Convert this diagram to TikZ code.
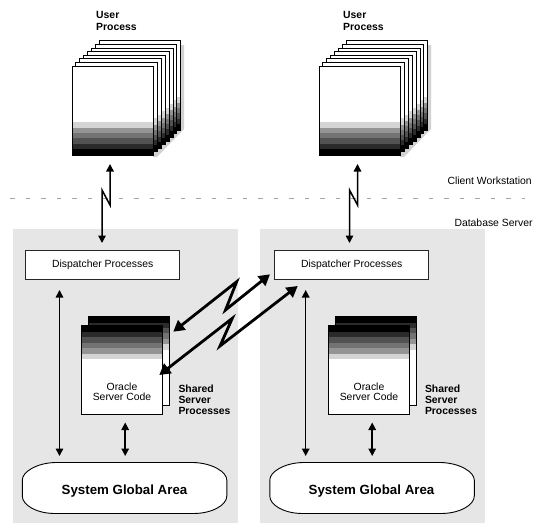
\documentclass[tikz,border=0pt]{standalone}
\usepackage{fontspec}
\setmainfont{Liberation Sans}
\usetikzlibrary{arrows.meta}
\definecolor{panelgray}{gray}{0.902}
\definecolor{shadowgray}{gray}{0.82}
\newcommand{\normaltxt}{\fontsize{10.4}{10.5}\selectfont}
\newcommand{\boldtxt}{\fontsize{10.4}{11}\selectfont\bfseries}
% page with bands at the bottom
\newcommand{\userpage}[2]{%
  \fill[white] (#1,#2) rectangle ++(81.5,89.5);
  \fill[black!17] (#1,#2+56) rectangle (#1+81.5,#2+62.3);
  \fill[black!42] (#1,#2+62.3) rectangle (#1+81.5,#2+67.3);
  \fill[black!55] (#1,#2+67.3) rectangle (#1+81.5,#2+72.3);
  \fill[black!68] (#1,#2+72.3) rectangle (#1+81.5,#2+77.7);
  \fill[black!83] (#1,#2+77.7) rectangle (#1+81.5,#2+83);
  \fill[black] (#1,#2+83) rectangle (#1+81.5,#2+89.5);
  \draw[pageline] (#1,#2) rectangle ++(81.5,89.5);}
% page with bands at the top
\newcommand{\serverpage}[2]{%
  \fill[white] (#1,#2) rectangle ++(81.5,89.5);
  \fill[black] (#1,#2) rectangle (#1+81.5,#2+6.7);
  \fill[black!83] (#1,#2+6.7) rectangle (#1+81.5,#2+12);
  \fill[black!68] (#1,#2+12) rectangle (#1+81.5,#2+17.4);
  \fill[black!55] (#1,#2+17.4) rectangle (#1+81.5,#2+23);
  \fill[black!42] (#1,#2+23) rectangle (#1+81.5,#2+28.4);
  \fill[black!17] (#1,#2+28.4) rectangle (#1+81.5,#2+33.7);
  \draw[pageline] (#1,#2) rectangle ++(81.5,89.5);}
\newcommand{\userstack}[1]{%
  \fill[shadowgray] (#1+109,45) -- (#1+112,45) -- (#1+112,129) -- (#1+85,157) -- (#1+81,157) -- cycle;
  \foreach \i in {7,6,...,0}{\userpage{#1+3.9*\i}{66-3.6*\i}}}
\newcommand{\serverstack}[1]{%
  \serverpage{#1+6.7}{316}
  \serverpage{#1}{325.3}}
\newcommand{\sgashape}[1]{%
  \path[sga] (#1+33,462.5) -- (#1+171,462.5)
    .. controls (#1+190,463) and (#1+204.5,472) .. (#1+204.5,480) -- (#1+204.5,496)
    .. controls (#1+204.5,505) and (#1+190,513.5) .. (#1+171,513.5) -- (#1+33,513.5)
    .. controls (#1+14,513.5) and (#1,505) .. (#1,496) -- (#1,480)
    .. controls (#1,472) and (#1+14,463) .. (#1+33,462.5) -- cycle;}
\tikzset{
  pageline/.style={draw=black,line width=0.9pt},
  sga/.style={draw=black,fill=white,line width=0.9pt},
  dispbox/.style={draw=black!85,fill=white,line width=1pt,minimum width=154.5pt,minimum height=29.3pt,inner sep=0pt,font=\normaltxt},
  plainlabel/.style={inner sep=0pt,anchor=base west,font=\normaltxt},
  boldlabel/.style={inner sep=0pt,anchor=base west,font=\boldtxt,align=left},
  centerlabel/.style={inner sep=0pt,anchor=base,font=\normaltxt,align=center},
  sgalabel/.style={inner sep=0pt,anchor=base,font=\fontsize{13.3}{14}\selectfont\bfseries},
  thinarrow/.style={line width=1.5pt,{Triangle[length=7.5pt,width=7.5pt]}-{Triangle[length=7.5pt,width=7.5pt]},line join=miter,miter limit=20},
  thickarrow/.style={line width=2.8pt,{Triangle[length=11pt,width=12pt]}-{Triangle[length=11pt,width=12pt]},line join=miter,miter limit=20},
}
\begin{document}
\begin{tikzpicture}[x=1pt,y=-1pt]
\useasboundingbox (0,0) rectangle (533,523);
% panels
\fill[panelgray] (12.7,229) rectangle (238,523);
\fill[panelgray] (260,229) rectangle (485,523);
% tier line
\coordinate (tierL) at (10,198.5);
\coordinate (tierR) at (525,198.5);
\draw[black!35,line width=0.8pt,dash pattern=on 4.5pt off 11pt] (tierL) -- (tierR);
% user processes
\userstack{72}
\userstack{319}
\node[boldlabel] (userA) at (96,30.7) {User\\[0.8pt]Process};
\node[boldlabel] (userB) at (343,30.7) {User\\[0.8pt]Process};
% tier labels
\node[plainlabel] (client) at (447.3,184) {Client Workstation};
\node[plainlabel] (dbserver) at (454.3,226) {Database Server};
% dispatcher
\node[dispbox] (dispA) at (102.7,265.3) {Dispatcher Processes};
\node[dispbox] (dispB) at (351.7,265.3) {Dispatcher Processes};
% server stacks
\serverstack{81.3}
\serverstack{328.3}
\node[centerlabel] (oracleA) at (122,400.7) {Oracle\\[-0.6pt]Server Code};
\node[centerlabel] (oracleB) at (369,400.7) {Oracle\\[-0.6pt]Server Code};
\node[boldlabel] (sharedA) at (178.3,414.7) {Shared\\Server\\Processes};
\node[boldlabel] (sharedB) at (424.8,414.7) {Shared\\Server\\Processes};
% SGA
\sgashape{22.3}
\sgashape{269.8}
\node[sgalabel] (sgaA) at (124.5,494) {System Global Area};
\node[sgalabel] (sgaB) at (371.5,494) {System Global Area};
% connector end points
\coordinate (uA) at (110,164);
\coordinate (uAz1) at (110,205);
\coordinate (uAz2) at (102,190);
\coordinate (dA) at (102,243);
\coordinate (uB) at (357.5,164);
\coordinate (uBz1) at (357.5,205);
\coordinate (uBz2) at (349.5,190);
\coordinate (dB) at (349.5,243);
\coordinate (lA1) at (59.5,290);
\coordinate (lA2) at (59.5,456);
\coordinate (lB1) at (305.7,290);
\coordinate (lB2) at (305.7,456);
\coordinate (sA1) at (125.2,422.5);
\coordinate (sA2) at (125.2,456);
\coordinate (sB1) at (372.2,422.5);
\coordinate (sB2) at (372.2,456);
\coordinate (cross1a) at (270,274.3);
\coordinate (cross1b) at (225.5,310);
\coordinate (cross1c) at (236.7,281.7);
\coordinate (cross1d) at (173.3,331.7);
\coordinate (cross2a) at (297.7,286);
\coordinate (cross2b) at (220,346);
\coordinate (cross2c) at (232.3,318.3);
\coordinate (cross2d) at (159.3,375);
% connectors
\draw[thinarrow] (uA) -- (uAz1) -- (uAz2) -- (dA);
\draw[thinarrow] (uB) -- (uBz1) -- (uBz2) -- (dB);
\draw[thinarrow] (lA1) -- (lA2);
\draw[thinarrow] (lB1) -- (lB2);
\draw[thinarrow] (sA1) -- (sA2);
\draw[thinarrow] (sB1) -- (sB2);
\draw[thickarrow] (cross1a) -- (cross1b) -- (cross1c) -- (cross1d);
\draw[thickarrow] (cross2a) -- (cross2b) -- (cross2c) -- (cross2d);
\end{tikzpicture}
\end{document}
